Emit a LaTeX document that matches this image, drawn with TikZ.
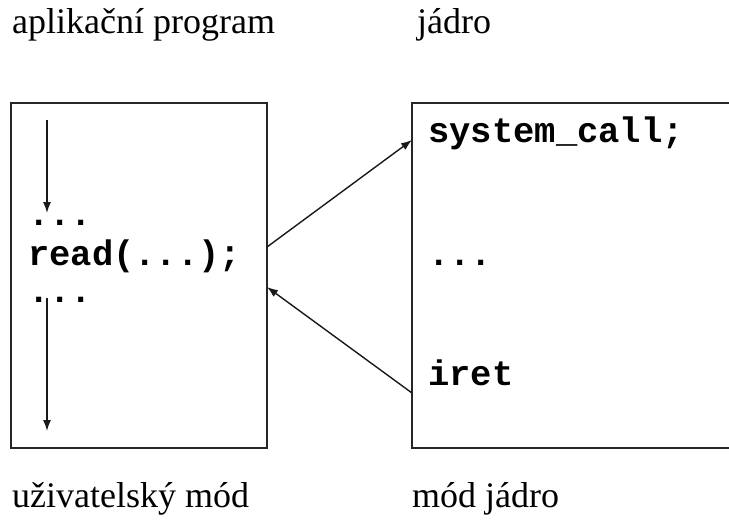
\documentclass[tikz,border=0pt]{standalone}
\usepackage{fontspec}
\setmainfont{Liberation Serif}
\setmonofont{Liberation Mono}
\usetikzlibrary{arrows.meta}
\begin{document}
\begin{tikzpicture}[x=1pt,y=-1pt,
  boxnode/.style={draw, draw=black!85, line width=1.6pt, inner sep=0pt, outer sep=0pt, anchor=north west},
  lbl/.style={anchor=base west, inner sep=0pt, font=\fontsize{36}{40}\selectfont},
  code/.style={anchor=base west, inner sep=0pt, font=\fontsize{35.5}{40}\selectfont\ttfamily\bfseries},
  arr/.style={line width=1.4pt, draw=black!90, -{Latex[length=11pt,width=8pt]}}]
\useasboundingbox (0,0) rectangle (729,531);
\clip (0,0) rectangle (729,531);
\node[boxnode, minimum width=256pt, minimum height=345pt] (L) at (11,103) {};
\node[boxnode, minimum width=340pt, minimum height=345pt] (R) at (412,103) {};
% labels
\node[lbl] (t1) at (12,33) {aplikační program};
\node[lbl] (t2) at (417,33) {jádro};
\node[lbl] (b1) at (12,507) {uživatelský mód};
\node[lbl] (b2) at (412,507) {mód jádro};
% code left
\node[code] (d1) at (28,225) {...};
\node[code] (rd) at (28,265) {read(...);};
\node[code] (d2) at (28,302) {...};
% code right
\node[code] (sc) at (428,142) {system\_call;};
\node[code] (d3) at (428,265) {...};
\node[code] (ir) at (428,385) {iret};
% vertical arrows
\coordinate (a1s) at (47,120);
\coordinate (a1e) at (47,213);
\coordinate (a2s) at (47,298);
\coordinate (a2e) at (47,431);
\draw[arr] (a1s) -- (a1e);
\draw[arr] (a2s) -- (a2e);
% cross arrows
\draw[arr] (L.north east |- 0,247) -- (R.north west |- 0,140);
\draw[arr] (R.north west |- 0,393) -- (L.north east |- 0,287);
\end{tikzpicture}
\end{document}
